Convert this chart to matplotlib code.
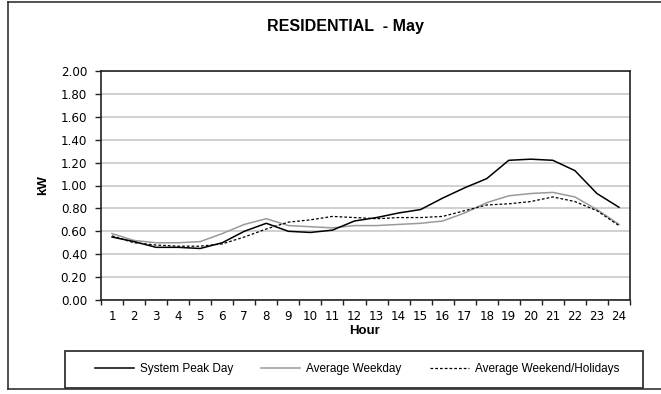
import matplotlib
matplotlib.use("Agg")
import matplotlib.pyplot as plt
from matplotlib.lines import Line2D
from matplotlib.patches import Rectangle
import numpy as np

hours = list(range(1, 25))
hour_labels = [str(h) for h in hours]
peak = [0.55, 0.51, 0.46, 0.46, 0.45, 0.50, 0.60, 0.67, 0.60, 0.59, 0.61, 0.69,
        0.72, 0.76, 0.79, 0.89, 0.98, 1.06, 1.22, 1.23, 1.22, 1.13, 0.93, 0.81]
weekday = [0.58, 0.52, 0.50, 0.50, 0.51, 0.58, 0.66, 0.71, 0.65, 0.64, 0.63, 0.65,
           0.65, 0.66, 0.67, 0.69, 0.76, 0.85, 0.91, 0.93, 0.94, 0.90, 0.79, 0.66]
weekend = [0.56, 0.50, 0.48, 0.47, 0.47, 0.49, 0.55, 0.62, 0.68, 0.70, 0.73, 0.72,
           0.71, 0.72, 0.72, 0.73, 0.78, 0.83, 0.84, 0.86, 0.90, 0.86, 0.78, 0.65]
series_names = ["System Peak Day", "Average Weekday", "Average Weekend/Holidays"]
title = "RESIDENTIAL  - May"
y_ticks = [0.0, 0.2, 0.4, 0.6, 0.8, 1.0, 1.2, 1.4, 1.6, 1.8, 2.0]

W, H = 661, 394
fig = plt.figure(figsize=(W / 100, H / 100), dpi=100)
ax = fig.add_axes([101 / W, 1 - 300 / H, (630 - 101) / W, (300 - 71) / H])

ax.plot(hours, peak, color="black", lw=1.1, label=series_names[0], zorder=4)
ax.plot(hours, weekday, color="#9a9a9a", lw=1.1, label=series_names[1], zorder=3)
ax.plot(hours, weekend, color="black", lw=0.9, linestyle=(0, (2.2, 1.6)),
        label=series_names[2], zorder=5)

ax.set_xlim(0.5, 24.5)
ax.set_ylim(0, 2.0)
ax.set_yticks(y_ticks)
ax.set_yticklabels([f"{v:.2f}" for v in y_ticks], family="DejaVu Sans", fontsize=8.6)
ax.yaxis.grid(True, color="#c4c4c4", lw=1.1)
ax.set_axisbelow(True)

ax.set_xticks(np.arange(0.5, 25, 1.0))
ax.set_xticklabels([])
ax.set_xticks(hours, minor=True)
ax.set_xticklabels(hour_labels, minor=True, family="DejaVu Sans", fontsize=8.6)
ax.tick_params(axis="x", which="major", direction="out", length=3.5, width=1, color="#222222")
ax.tick_params(axis="x", which="minor", length=0, pad=7.5)
ax.tick_params(axis="y", direction="out", length=4, width=1, pad=6, color="#222222")

for s in ax.spines.values():
    s.set_color("#222222")
    s.set_linewidth(1.2)

fig.text(345 / W, 1 - 26 / H, title, ha="center", va="center",
         family="Liberation Sans", fontweight="bold", fontsize=11.5)
fig.text(43 / W, 1 - 185.5 / H, "kW", ha="center", va="center", rotation=90,
         family="Liberation Sans", fontweight="bold", fontsize=9.5)
fig.text(365 / W, 1 - 331 / H, "Hour", ha="center", va="center",
         family="Liberation Sans", fontweight="bold", fontsize=9.5)

# legend frame drawn separately
fig.add_artist(Rectangle((64.7 / W, 1 - 387.5 / H), (643 - 64.7) / W, (387.5 - 350.7) / H,
                         transform=fig.transFigure, facecolor="white",
                         edgecolor="#333333", lw=1.3, zorder=1))
leg = fig.legend(loc="center", ncol=3,
                 bbox_to_anchor=(357 / W, 1 - 369 / H),
                 prop={"family": "Liberation Sans", "size": 8.5},
                 handlelength=3.3, handletextpad=0.5, columnspacing=2.4,
                 frameon=False, borderaxespad=0)
leg.set_zorder(2)

# outer chart frame
fc = "#333333"
fig.add_artist(Line2D([8 / W, 8 / W], [1 - 389 / H, 1 - 1.5 / H], color=fc, lw=1.2))
fig.add_artist(Line2D([8 / W, 1.0], [1 - 1.5 / H, 1 - 1.5 / H], color=fc, lw=1.2))
fig.add_artist(Line2D([8 / W, 1.0], [1 - 389 / H, 1 - 389 / H], color=fc, lw=1.2))

fig.savefig("out.png", dpi=100)
